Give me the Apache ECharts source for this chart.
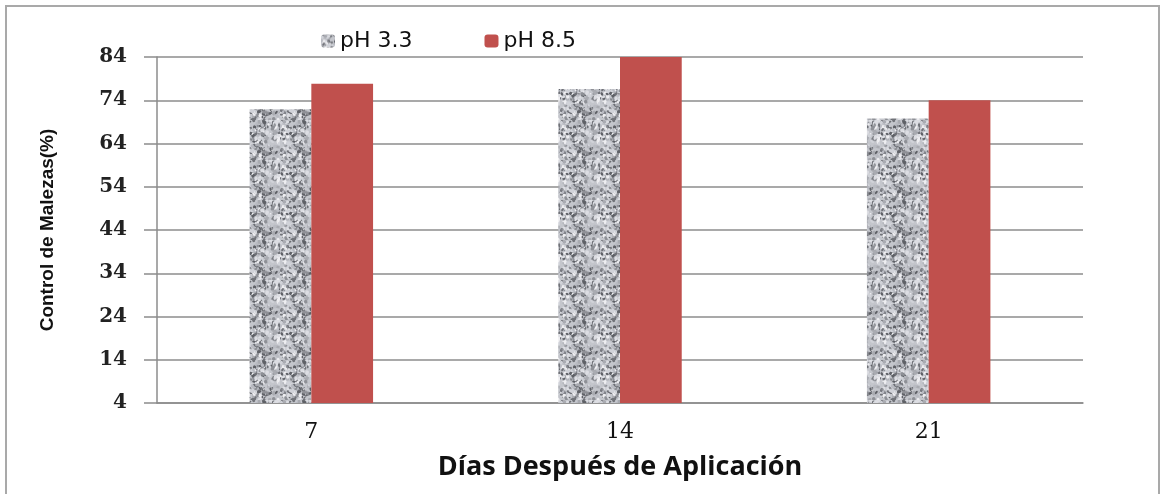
<!DOCTYPE html>
<html>
<head>
<meta charset="utf-8">
<script src="https://cdn.jsdelivr.net/npm/echarts@6/dist/echarts.min.js"></script>
<style>
    html, body { margin: 0; padding: 0; background: #fff; }
    #chart { width: 1160px; height: 494px; }
</style>
</head>
<body>
<div id="chart"></div>
<script>
'use strict';
var dias = ['7', '14', '21'];
var ph33 = [71.9, 76.6, 69.8];
var ph85 = [77.8, 84, 74];
var yTicks = [4, 14, 24, 34, 44, 54, 64, 74, 84];

// granite-like texture for the pH 3.3 bars
function makeGranite() {
    var c = document.createElement('canvas');
    c.width = 40;
    c.height = 40;
    var ctx = c.getContext('2d');
    ctx.fillStyle = '#c4c6cc';
    ctx.fillRect(0, 0, 40, 40);
    var seed = 11;
    function rnd() {
        seed = (seed * 16807) % 2147483647;
        return seed / 2147483647;
    }
    var tones = ['#707278', '#8e9096', '#a9abb1', '#dcdde2', '#eeeef1', '#5e6066', '#b9bbc2', '#d0d2d8'];
    for (var i = 0; i < 320; i++) {
        var x = rnd() * 40, y = rnd() * 40, r = 0.5 + rnd() * 1.3;
        ctx.fillStyle = tones[Math.floor(rnd() * tones.length)];
        ctx.beginPath();
        ctx.ellipse(x, y, r * (1 + rnd()), r, rnd() * Math.PI, 0, Math.PI * 2);
        ctx.fill();
    }
    return c;
}
var granite = { image: makeGranite(), repeat: 'repeat' };

var chart = echarts.init(document.getElementById('chart'), null, { renderer: 'canvas' });
chart.setOption({
    animation: false,
    backgroundColor: '#fff',
    graphic: [{
        type: 'rect',
        shape: { x: 6, y: 6, width: 1153, height: 500 },
        style: { fill: 'none', stroke: '#a9a9a9', lineWidth: 2 },
        silent: true
    }],
    legend: {
        data: ['pH 3.3', 'pH 8.5'],
        top: 25,
        left: 316,
        itemWidth: 14,
        itemHeight: 13,
        itemGap: 72,
        textStyle: { fontFamily: 'DejaVu Sans', fontSize: 22, color: '#111' }
    },
    grid: { left: 157, right: 77, top: 57, bottom: 91 },
    xAxis: {
        type: 'category',
        data: dias,
        name: 'Días Después de Aplicación',
        nameLocation: 'middle',
        nameGap: 51,
        nameTextStyle: { fontFamily: 'Open Sans', fontWeight: 'bold', fontSize: 27, color: '#111' },
        axisLine: { lineStyle: { color: '#8c8c8c', width: 1.5 } },
        axisTick: { show: false },
        axisLabel: { margin: 18, fontFamily: 'DejaVu Serif', fontSize: 22, color: '#111' }
    },
    yAxis: {
        type: 'value',
        min: yTicks[0],
        max: yTicks[yTicks.length - 1],
        interval: 10,
        name: 'Control de Malezas(%)',
        nameLocation: 'middle',
        nameGap: 100,
        nameRotate: 90,
        nameTextStyle: { fontFamily: 'Liberation Sans', fontWeight: 'bold', fontSize: 19, color: '#111' },
        axisLine: { show: true, lineStyle: { color: '#8c8c8c', width: 1.5 } },
        axisTick: { show: true, inside: false, length: 13, lineStyle: { color: '#8c8c8c', width: 1.5 } },
        axisLabel: { margin: 30, fontFamily: 'DejaVu Serif', fontWeight: 'bold', fontSize: 20, color: '#222' },
        splitLine: { lineStyle: { color: '#8c8c8c', width: 1.5 } }
    },
    series: [
        {
            name: 'pH 3.3',
            type: 'bar',
            data: ph33,
            barGap: '0%',
            barCategoryGap: '60%',
            itemStyle: { color: granite }
        },
        {
            name: 'pH 8.5',
            type: 'bar',
            data: ph85,
            itemStyle: { color: '#c0504d' }
        }
    ]
});
</script>
</body>
</html>
